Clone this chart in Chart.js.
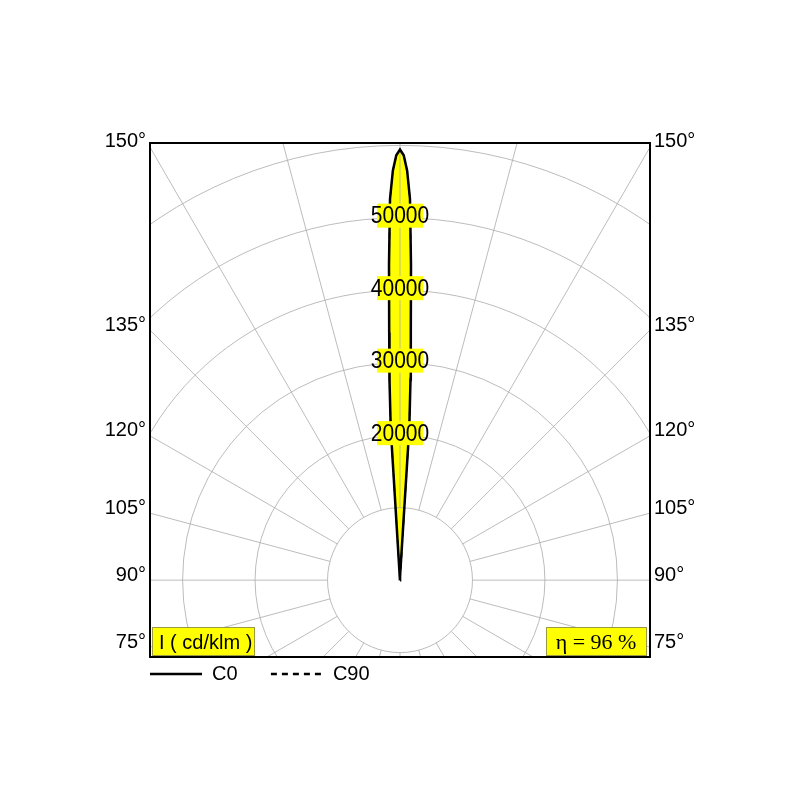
<!DOCTYPE html>
<html>
<head>
<meta charset="utf-8">
<title>Lichtverteilung</title>
<script src="https://cdn.jsdelivr.net/npm/chart.js@4.4.1/dist/chart.umd.min.js"></script>
<style>
  html, body { margin: 0; padding: 0; background: #fff; }
  #wrap { width: 800px; height: 800px; }
</style>
</head>
<body>
<div id="wrap"><canvas id="grafico"></canvas></div>
<script>
// gamma angle in degrees (0 = down, 180 = up), intensity in cd/klm
const gamma = [0, 45, 90, 135, 170, 175, 176, 176.5, 177, 177.5, 178, 178.5, 179, 179.5, 180];
const c0 =    [0, 0, 0, 0, 20, 200, 600, 21000, 27700, 34200, 43500, 52600, 56500, 58600, 59400];
const c90 =   [0, 0, 0, 0, 20, 200, 600, 21000, 27700, 34200, 43500, 52600, 56500, 58600, 59400];
const seriesNames = ['C0', 'C90'];
const rings = [10000, 20000, 30000, 40000, 50000, 60000, 70000];
const ringLabels = [20000, 30000, 40000, 50000];
const angleTicks = [150, 135, 120, 105, 90, 75];
const unitText = 'I ( cd/klm )';
const eta = 96;

const X_HALF = 34500, Y_MIN = -10600, Y_MAX = 60300;
const FONT = "'Liberation Sans', Arial, sans-serif";
const YELLOW = '#ffff00';
const rad = d => d * Math.PI / 180;

// polar curve -> x/y, right half then mirrored left half
function toPoints(vals) {
  const right = gamma.map((g, i) => ({x: vals[i] * Math.sin(rad(g)), y: -vals[i] * Math.cos(rad(g))}));
  const left = right.slice().reverse().map(p => ({x: -p.x, y: p.y}));
  return right.concat(left);
}

// where the radial line of a given angle meets the side of the box
const edgeY = a => -X_HALF * Math.cos(rad(a)) / Math.sin(rad(a));

const polarGrid = {
  id: 'polarGrid',
  beforeDatasetsDraw(chart) {
    const {ctx, chartArea: a, scales: {x, y}} = chart;
    const cx = x.getPixelForValue(0), cy = y.getPixelForValue(0);
    const px = r => x.getPixelForValue(r) - cx;
    ctx.save();
    ctx.beginPath();
    ctx.rect(a.left, a.top, a.width, a.height);
    ctx.clip();
    ctx.strokeStyle = '#ababab';
    ctx.lineWidth = 0.8;
    rings.forEach(r => {
      ctx.beginPath();
      ctx.arc(cx, cy, px(r), 0, Math.PI * 2);
      ctx.stroke();
    });
    for (let d = 0; d < 360; d += 15) {
      const s = Math.sin(rad(d)), c = Math.cos(rad(d));
      ctx.beginPath();
      ctx.moveTo(cx + px(rings[0]) * s, cy + px(rings[0]) * c);
      ctx.lineTo(cx + px(90000) * s, cy + px(90000) * c);
      ctx.stroke();
    }
    ctx.restore();
  },
  afterDatasetsDraw(chart) {
    const {ctx, scales: {x, y}} = chart;
    const cx = x.getPixelForValue(0);
    ringLabels.forEach(v => {
      const py = y.getPixelForValue(v) - 2;
      ctx.save();
      ctx.fillStyle = YELLOW;
      ctx.fillRect(cx - 23, py - 12, 46, 24);
      ctx.translate(cx, py + 1);
      ctx.scale(1, 1.15);
      ctx.font = '21px ' + FONT;
      ctx.textAlign = 'center';
      ctx.textBaseline = 'middle';
      ctx.fillStyle = '#000';
      ctx.fillText(String(v), 0, 0);
      ctx.restore();
    });
  },
  afterDraw(chart) {
    const {ctx, chartArea: a} = chart;
    ctx.save();
    // unit and efficiency boxes
    ctx.fillStyle = YELLOW;
    ctx.strokeStyle = '#9a9a40';
    ctx.lineWidth = 1;
    ctx.fillRect(a.left + 2, a.bottom - 30, 103, 29);
    ctx.strokeRect(a.left + 2.5, a.bottom - 29.5, 102, 28);
    ctx.fillRect(a.right - 104, a.bottom - 30, 101, 29);
    ctx.strokeRect(a.right - 103.5, a.bottom - 29.5, 100, 28);
    ctx.fillStyle = '#000';
    ctx.textBaseline = 'middle';
    ctx.font = '20px ' + FONT;
    ctx.textAlign = 'left';
    ctx.fillText(unitText, a.left + 9, a.bottom - 14);
    ctx.font = "22px 'Liberation Serif', 'Times New Roman', serif";
    ctx.textAlign = 'center';
    ctx.fillText('\u03b7 = ' + eta + ' %', a.right - 54, a.bottom - 14);
    // frame
    ctx.strokeStyle = '#000';
    ctx.lineWidth = 2;
    ctx.strokeRect(a.left, a.top, a.width, a.height);
    ctx.restore();
  }
};

const angleAxis = pos => ({
  type: 'linear',
  position: pos,
  min: Y_MIN,
  max: Y_MAX,
  grid: {display: false, drawTicks: false},
  border: {display: false},
  afterFit: s => { s.width = 50; },
  afterBuildTicks: s => { s.ticks = angleTicks.map(d => ({value: edgeY(d)})); },
  ticks: {
    autoSkip: false,
    padding: 4,
    labelOffset: -5,
    color: '#000',
    font: {family: FONT, size: 20},
    callback: (v, i) => angleTicks[i] + '\u00b0'
  }
});

new Chart(document.getElementById('grafico'), {
  type: 'scatter',
  data: {
    datasets: [{
      label: seriesNames[0],
      data: toPoints(c0),
      showLine: true,
      borderColor: '#000',
      borderWidth: 2.5,
      backgroundColor: YELLOW,
      fill: 'shape',
      pointRadius: 0
    }, {
      label: seriesNames[1],
      data: toPoints(c90),
      showLine: true,
      borderColor: '#000',
      borderWidth: 1.5,
      borderDash: [6, 5],
      fill: false,
      pointRadius: 0
    }]
  },
  options: {
    responsive: true,
    maintainAspectRatio: false,
    animation: false,
    layout: {padding: {left: 100, right: 100, top: 143, bottom: 106}},
    scales: {
      x: {
        type: 'linear', min: -X_HALF, max: X_HALF,
        grid: {display: false, drawTicks: false},
        border: {display: false},
        ticks: {display: false},
        afterFit: s => { s.height = 7; }
      },
      y: angleAxis('left'),
      y2: angleAxis('right')
    },
    plugins: {
      filler: {drawTime: 'beforeDatasetsDraw'},
      tooltip: {enabled: false},
      legend: {
        position: 'bottom',
        align: 'start',
        fullSize: false,
        labels: {
          padding: 0,
          usePointStyle: true,
          pointStyleWidth: 52,
          color: '#000',
          font: {family: FONT, size: 20},
          generateLabels: chart => chart.data.datasets.map((ds, i) => ({
            text: i === 0 ? ds.label + '      ' : ds.label,
            fillStyle: 'transparent',
            strokeStyle: '#000',
            lineWidth: 2.5,
            lineDash: ds.borderDash || [],
            pointStyle: 'line',
            hidden: false,
            datasetIndex: i
          }))
        }
      }
    }
  },
  plugins: [polarGrid]
});
</script>
</body>
</html>
